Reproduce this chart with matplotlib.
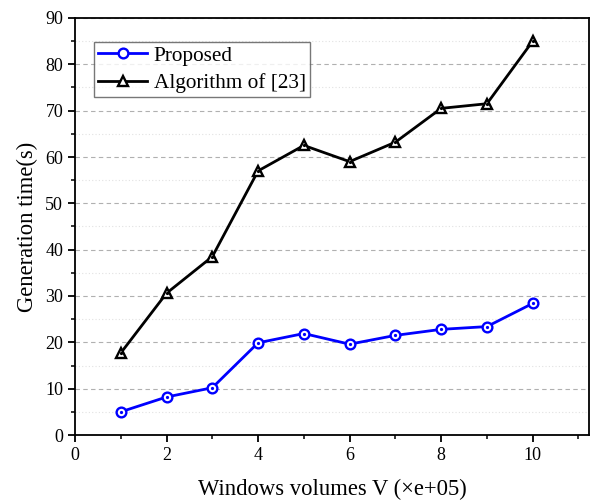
import matplotlib
matplotlib.use("Agg")
import matplotlib.pyplot as plt
from matplotlib.ticker import MultipleLocator

volumes = [1, 2, 3, 4, 5, 6, 7, 8, 9, 10]
proposed = [5.0, 8.2, 10.2, 19.9, 21.9, 19.6, 21.5, 22.8, 23.4, 28.4]
algo23 = [17.7, 30.6, 38.5, 57.0, 62.5, 59.0, 63.2, 70.5, 71.5, 85.0]

plt.rcParams["font.family"] = ["Liberation Serif", "DejaVu Serif"]

fig = plt.figure(figsize=(5.94, 5.0), dpi=100)
ax = fig.add_axes([75 / 594, 65 / 500, 514 / 594, 417 / 500])

ax.plot(volumes, proposed, color="blue", lw=2.0, marker="o", ms=7,
        mfc="white", mec="blue", mew=1.7, label="Proposed", zorder=3)
ax.plot(volumes, algo23, color="black", lw=2.0, marker="^", ms=7.5,
        mfc="white", mec="black", mew=1.7, label="Algorithm of [23]", zorder=3)
# small dots inside the markers
ax.plot(volumes, proposed, ls="none", marker="o", ms=1.3, color="blue", zorder=4)
ax.plot(volumes, algo23, ls="none", marker="o", ms=1.3, color="black", zorder=4)

ax.set_xlim(0, 11.23)
ax.set_ylim(0, 90)
ax.xaxis.set_major_locator(MultipleLocator(2))
ax.xaxis.set_minor_locator(MultipleLocator(1))
ax.yaxis.set_major_locator(MultipleLocator(10))
ax.yaxis.set_minor_locator(MultipleLocator(5))
ax.tick_params(which="major", direction="out", length=5, width=1.3, labelsize=13)
ax.tick_params(which="minor", direction="out", length=3, width=1.1)
for s in ax.spines.values():
    s.set_linewidth(1.3)

ax.grid(which="major", axis="y", ls=(0, (4, 3)), color="#b0b0b0", lw=0.8)
ax.grid(which="minor", axis="y", ls=(0, (1, 2)), color="#e2e2e2", lw=0.8)
ax.set_axisbelow(True)

ax.set_xlabel("Windows volumes V (×e+05)", fontsize=16.3, labelpad=11)
ax.set_ylabel("Generation time(s)", fontsize=16.3, labelpad=5)

leg = ax.legend(loc="upper left", bbox_to_anchor=(0.037, 0.943), fontsize=15.3,
                frameon=True, fancybox=False, edgecolor="#555555",
                handlelength=2.3, handletextpad=0.3, borderpad=0.2,
                labelspacing=0.35, borderaxespad=0)
leg.get_frame().set_linewidth(1.0)

fig.savefig("out.png", dpi=100)
